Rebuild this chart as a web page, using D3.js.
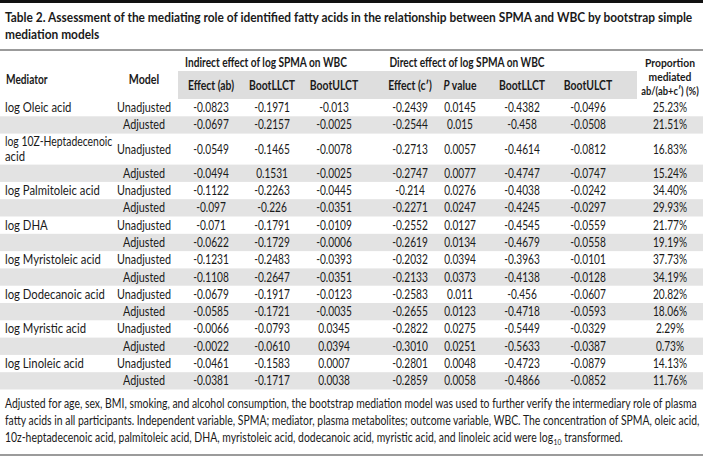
<!DOCTYPE html>
<html><head><meta charset="utf-8">
<script src="https://cdn.jsdelivr.net/npm/d3@7"></script>
<style>
body{margin:0;background:#fff}
svg{display:block}
text{font-family:Lato,"Noto Sans",sans-serif;fill:#1a1a1a}
</style>
</head><body>
<svg id="c" width="703" height="474"></svg>
<script>
// ---------- data ----------
const titleLines = ["Table 2. Assessment of the mediating role of identified fatty acids in the relationship between SPMA and WBC by bootstrap simple","mediation models"];
const mediators = ["log Oleic acid","log 10Z-Heptadecenoic acid","log Palmitoleic acid","log DHA","log Myristoleic acid","log Dodecanoic acid","log Myristic acid","log Linoleic acid"];
const mediatorLines = [["log Oleic acid"],["log 10Z-Heptadecenoic","acid"],["log Palmitoleic acid"],["log DHA"],["log Myristoleic acid"],["log Dodecanoic acid"],["log Myristic acid"],["log Linoleic acid"]];
const models = ["Unadjusted","Adjusted"];
const groupHeaders = ["Indirect effect of log SPMA on WBC","Direct effect of log SPMA on WBC"];
const subHeaders = ["Effect (ab)","BootLLCT","BootULCT","Effect (c\u2032)","P value","BootLLCT","BootULCT"];
const propHeader = ["Proportion","mediated","ab/(ab+c\u2032) (%)"];
const effectAB  = ["-0.0823","-0.0697","-0.0549","-0.0494","-0.1122","-0.097","-0.071","-0.0622","-0.1231","-0.1108","-0.0679","-0.0585","-0.0066","-0.0022","-0.0461","-0.0381"];
const indLLCT   = ["-0.1971","-0.2157","-0.1465","0.1531","-0.2263","-0.226","-0.1791","-0.1729","-0.2483","-0.2647","-0.1917","-0.1721","-0.0793","-0.0610","-0.1583","-0.1717"];
const indULCT   = ["-0.013","-0.0025","-0.0078","-0.0025","-0.0445","-0.0351","-0.0109","-0.0006","-0.0393","-0.0351","-0.0123","-0.0035","0.0345","0.0394","0.0007","0.0038"];
const effectC   = ["-0.2439","-0.2544","-0.2713","-0.2747","-0.214","-0.2271","-0.2552","-0.2619","-0.2032","-0.2133","-0.2583","-0.2655","-0.2822","-0.3010","-0.2801","-0.2859"];
const pValue    = ["0.0145","0.015","0.0057","0.0077","0.0276","0.0247","0.0127","0.0134","0.0394","0.0373","0.011","0.0123","0.0275","0.0251","0.0048","0.0058"];
const dirLLCT   = ["-0.4382","-0.458","-0.4614","-0.4747","-0.4038","-0.4245","-0.4545","-0.4679","-0.3963","-0.4138","-0.456","-0.4718","-0.5449","-0.5633","-0.4723","-0.4866"];
const dirULCT   = ["-0.0496","-0.0508","-0.0812","-0.0747","-0.0242","-0.0297","-0.0559","-0.0558","-0.0101","-0.0128","-0.0607","-0.0593","-0.0329","-0.0387","-0.0879","-0.0852"];
const proportion= ["25.23%","21.51%","16.83%","15.24%","34.40%","29.93%","21.77%","19.19%","37.73%","34.19%","20.82%","18.06%","2.29%","0.73%","14.13%","11.76%"];
const footLines = [
 "Adjusted for age, sex, BMI, smoking, and alcohol consumption, the bootstrap mediation model was used to further verify the intermediary role of plasma",
 "fatty acids in all participants. Independent variable, SPMA; mediator, plasma metabolites; outcome variable, WBC. The concentration of SPMA, oleic acid,",
 "10z-heptadecenoic acid, palmitoleic acid, DHA, myristoleic acid, dodecanoic acid, myristic acid, and linoleic acid were log"
];
const footSub = "10";
const footEnd = "transformed.";

// ---------- layout ----------
const W = 703, L = 5;
const svg = d3.select("#c");
const colKeys = ["model","ab","il","iu","c","p","dl","du","prop"];
const x = d3.scaleOrdinal(colKeys, [144,211,272,334,410,460,522,588,670]);
const numCols = [effectAB,indLLCT,indULCT,effectC,pValue,dirLLCT,dirULCT,proportion];

// horizontally condensed text placement via transform
function put(sel, fx, fy, f){
  return sel.attr("x",0).attr("y",0)
    .attr("transform",(d,i)=>`translate(${typeof fx==="function"?fx(d,i):fx},${typeof fy==="function"?fy(d,i):fy}) scale(${typeof f==="function"?f(d,i):f},1)`);
}

// rows
const rows=[];
mediators.forEach((m,i)=>models.forEach((md,j)=>rows.push({med:i,model:j,idx:i*2+j})));
const rowH = r => (r.model===0 && mediatorLines[r.med].length>1) ? 31 : 17.3;
let yAcc = 99;
rows.forEach(r=>{r.y0=yAcc; r.h=rowH(r); yAcc+=r.h; r.cy=r.y0+r.h/2;});
const tableBottom = yAcc;

// top bar
svg.append("rect").attr("x",0).attr("y",0).attr("width",W).attr("height",3).attr("fill","#111");

// title (condensed so that line 1 fills the width)
const tt = svg.selectAll("text.title").data(titleLines).join("text").attr("class","title")
  .attr("font-size",14).attr("font-weight",700).text(d=>d);
const tf = 688/tt.nodes()[0].getComputedTextLength();
put(tt, L, (d,i)=>22+i*17, tf);

// rule under title
svg.append("line").attr("x1",0).attr("x2",W).attr("y1",50).attr("y2",50).attr("stroke","#7a7a7a").attr("stroke-width",1.6);

// header band
svg.append("rect").attr("x",178).attr("y",71).attr("width",637-178).attr("height",28).attr("fill","#dedede");

// row bands (Adjusted rows)
svg.selectAll("rect.band").data(rows.filter(r=>r.model===1)).join("rect").attr("class","band")
  .attr("x",0).attr("width",W).attr("y",d=>d.y0).attr("height",d=>d.h).attr("fill","#e3e3e3");

// headers
const hb = svg.append("g").attr("font-weight",700).attr("font-size",13);
put(hb.append("text").text("Mediator"), L+1, 84, 0.78);
put(hb.append("text").attr("text-anchor","middle").text("Model"), x("model"), 84, 0.82);
put(hb.selectAll("text.grp").data(groupHeaders).join("text").attr("class","grp")
  .attr("text-anchor","middle").text(d=>d), (d,i)=>i===0?266:467, 67, 0.78);
const sh = hb.selectAll("text.sub").data(subHeaders).join("text").attr("class","sub").attr("text-anchor","middle");
sh.each(function(d){
  const t=d3.select(this);
  if(d.startsWith("P ")){ t.append("tspan").attr("font-style","italic").text("P"); t.append("tspan").text(d.slice(1)); }
  else t.text(d);
});
put(sh, (d,i)=>x(colKeys[i+1]), 90, 0.8);
put(hb.selectAll("text.prop").data(propHeader).join("text").attr("class","prop")
  .attr("font-size",12).attr("text-anchor","middle").text(d=>d), x("prop"), (d,i)=>66.5+i*14.3, (d,i)=>i===2?0.78:0.86);

// body
const body = svg.append("g").attr("font-size",13);
const medLines = [];
rows.filter(r=>r.model===0).forEach(r=>{
  const lines = mediatorLines[r.med];
  lines.forEach((ln,k)=>medLines.push({t:ln, y:r.cy+4.5+(k-(lines.length-1)/2)*15}));
});
put(body.selectAll("text.med").data(medLines).join("text").attr("class","med").text(d=>d.t), L, d=>d.y, d=>d.t.length>20?0.8:0.87);
put(body.selectAll("text.model").data(rows).join("text").attr("class","model")
  .attr("text-anchor","middle").text(d=>models[d.model]), x("model"), d=>d.cy+4.5, 0.83);
numCols.forEach((col,ci)=>{
  put(body.selectAll("text.n"+ci).data(rows).join("text").attr("class","n"+ci)
    .attr("text-anchor","middle").text(d=>col[d.idx]), x(colKeys[ci+1]), d=>d.cy+4.5, 0.78);
});

// footnote
const fy0 = tableBottom + 18.5;
const fn = svg.append("g").attr("font-size",12.5);
const ft = fn.selectAll("text.foot").data(footLines).join("text").attr("class","foot").text(d=>d);
const ff = 692/ft.nodes()[0].getComputedTextLength();
put(ft, L, (d,i)=>fy0+i*17, ff);
const w3 = ft.nodes()[2].getComputedTextLength()*ff;
const sub = fn.append("text").attr("font-size",8).text(footSub);
put(sub, L+w3+0.5, fy0+2*17+3, ff);
const ws = sub.node().getComputedTextLength()*ff;
put(fn.append("text").text(footEnd), L+w3+ws+3.5, fy0+2*17, ff);

// bottom rule
svg.append("line").attr("x1",0).attr("x2",W).attr("y1",fy0+47).attr("y2",fy0+47).attr("stroke","#7a7a7a").attr("stroke-width",1.6);
</script>
</body></html>
